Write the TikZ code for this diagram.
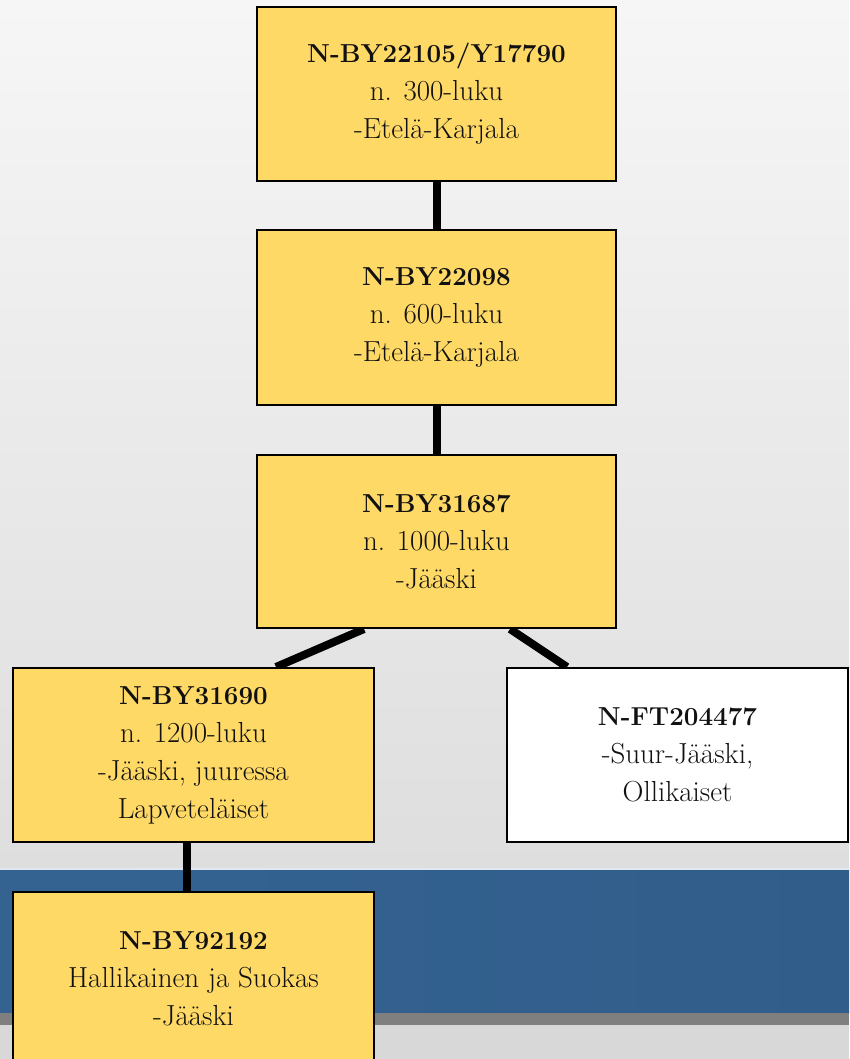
\documentclass[tikz,border=0pt]{standalone}
\usetikzlibrary{calc}
\definecolor{boxyellow}{HTML}{FFD966}
\definecolor{bandblue}{HTML}{346392}
\definecolor{bandbluedark}{HTML}{315D8A}
\definecolor{bgtop}{HTML}{F6F6F6}
\definecolor{bgmid}{HTML}{DEDEDE}
\definecolor{stripe}{HTML}{7F7F7F}
\definecolor{bglow}{HTML}{D8D8D8}
\definecolor{txt}{HTML}{111111}
\pgfdeclarelayer{bg}
\pgfdeclarelayer{edges}
\pgfsetlayers{bg,edges,main}
\newcommand{\hd}[1]{{\fontsize{26}{38}\selectfont\bfseries #1}}
\begin{document}
\begin{tikzpicture}[x=1pt,y=-1pt,
  box/.style={draw=black, line width=2pt, fill=boxyellow, align=center,
    inner sep=0pt, text=txt, font=\fontsize{29}{38}\selectfont},
  whitebox/.style={box, fill=white},
  link/.style={draw=black, line width=8pt}]
\useasboundingbox (0,0) rectangle (849,1059);
\begin{pgfonlayer}{bg}
  \shade[top color=bgtop, bottom color=bgmid] (0,0) rectangle (849,869);
  \shade[left color=bandblue, right color=bandbluedark] (0,869) rectangle (849,1013);
  \fill[white!85!bandblue] (0,868) rectangle (849,870);
  \fill[stripe] (0,1013) rectangle (849,1025);
  \fill[bglow] (0,1025) rectangle (849,1059);
\end{pgfonlayer}

\node[box, minimum width=359pt, minimum height=174pt] (b1) at (436.5,94)
  {\hd{N-BY22105/Y17790}\\n. 300-luku\\-Etelä-Karjala};
\node[box, minimum width=359pt, minimum height=175pt] (b2) at (436.5,317.5)
  {\hd{N-BY22098}\\n. 600-luku\\-Etelä-Karjala};
\node[box, minimum width=359pt, minimum height=173pt] (b3) at (436.5,541.5)
  {\hd{N-BY31687}\\n. 1000-luku\\-Jääski};
\node[box, minimum width=361pt, minimum height=174pt] (b4) at (193.5,755)
  {\hd{N-BY31690}\\n. 1200-luku\\-Jääski, juuressa\\Lapveteläiset};
\node[whitebox, minimum width=341pt, minimum height=174pt] (b5) at (677.5,755)
  {\hd{N-FT204477}\\-Suur-Jääski,\\Ollikaiset};
\node[box, minimum width=361pt, minimum height=173pt] (b6) at (193.5,978.5)
  {\hd{N-BY92192}\\Hallikainen ja Suokas\\-Jääski};

\coordinate (k46) at (187,0);
\coordinate (d1) at (364,0);
\coordinate (d2) at (276,0);
\coordinate (d3) at (510,0);
\coordinate (d4) at (567,0);
\begin{pgfonlayer}{edges}
  \draw[link] (b1.south) -- (b2.north);
  \draw[link] (b2.south) -- (b3.north);
  \draw[link] (b3.south -| d1) -- (b4.north -| d2);
  \draw[link] (b3.south -| d3) -- (b5.north -| d4);
  \draw[link] (b4.south -| k46) -- (b6.north -| k46);
\end{pgfonlayer}
\end{tikzpicture}
\end{document}
